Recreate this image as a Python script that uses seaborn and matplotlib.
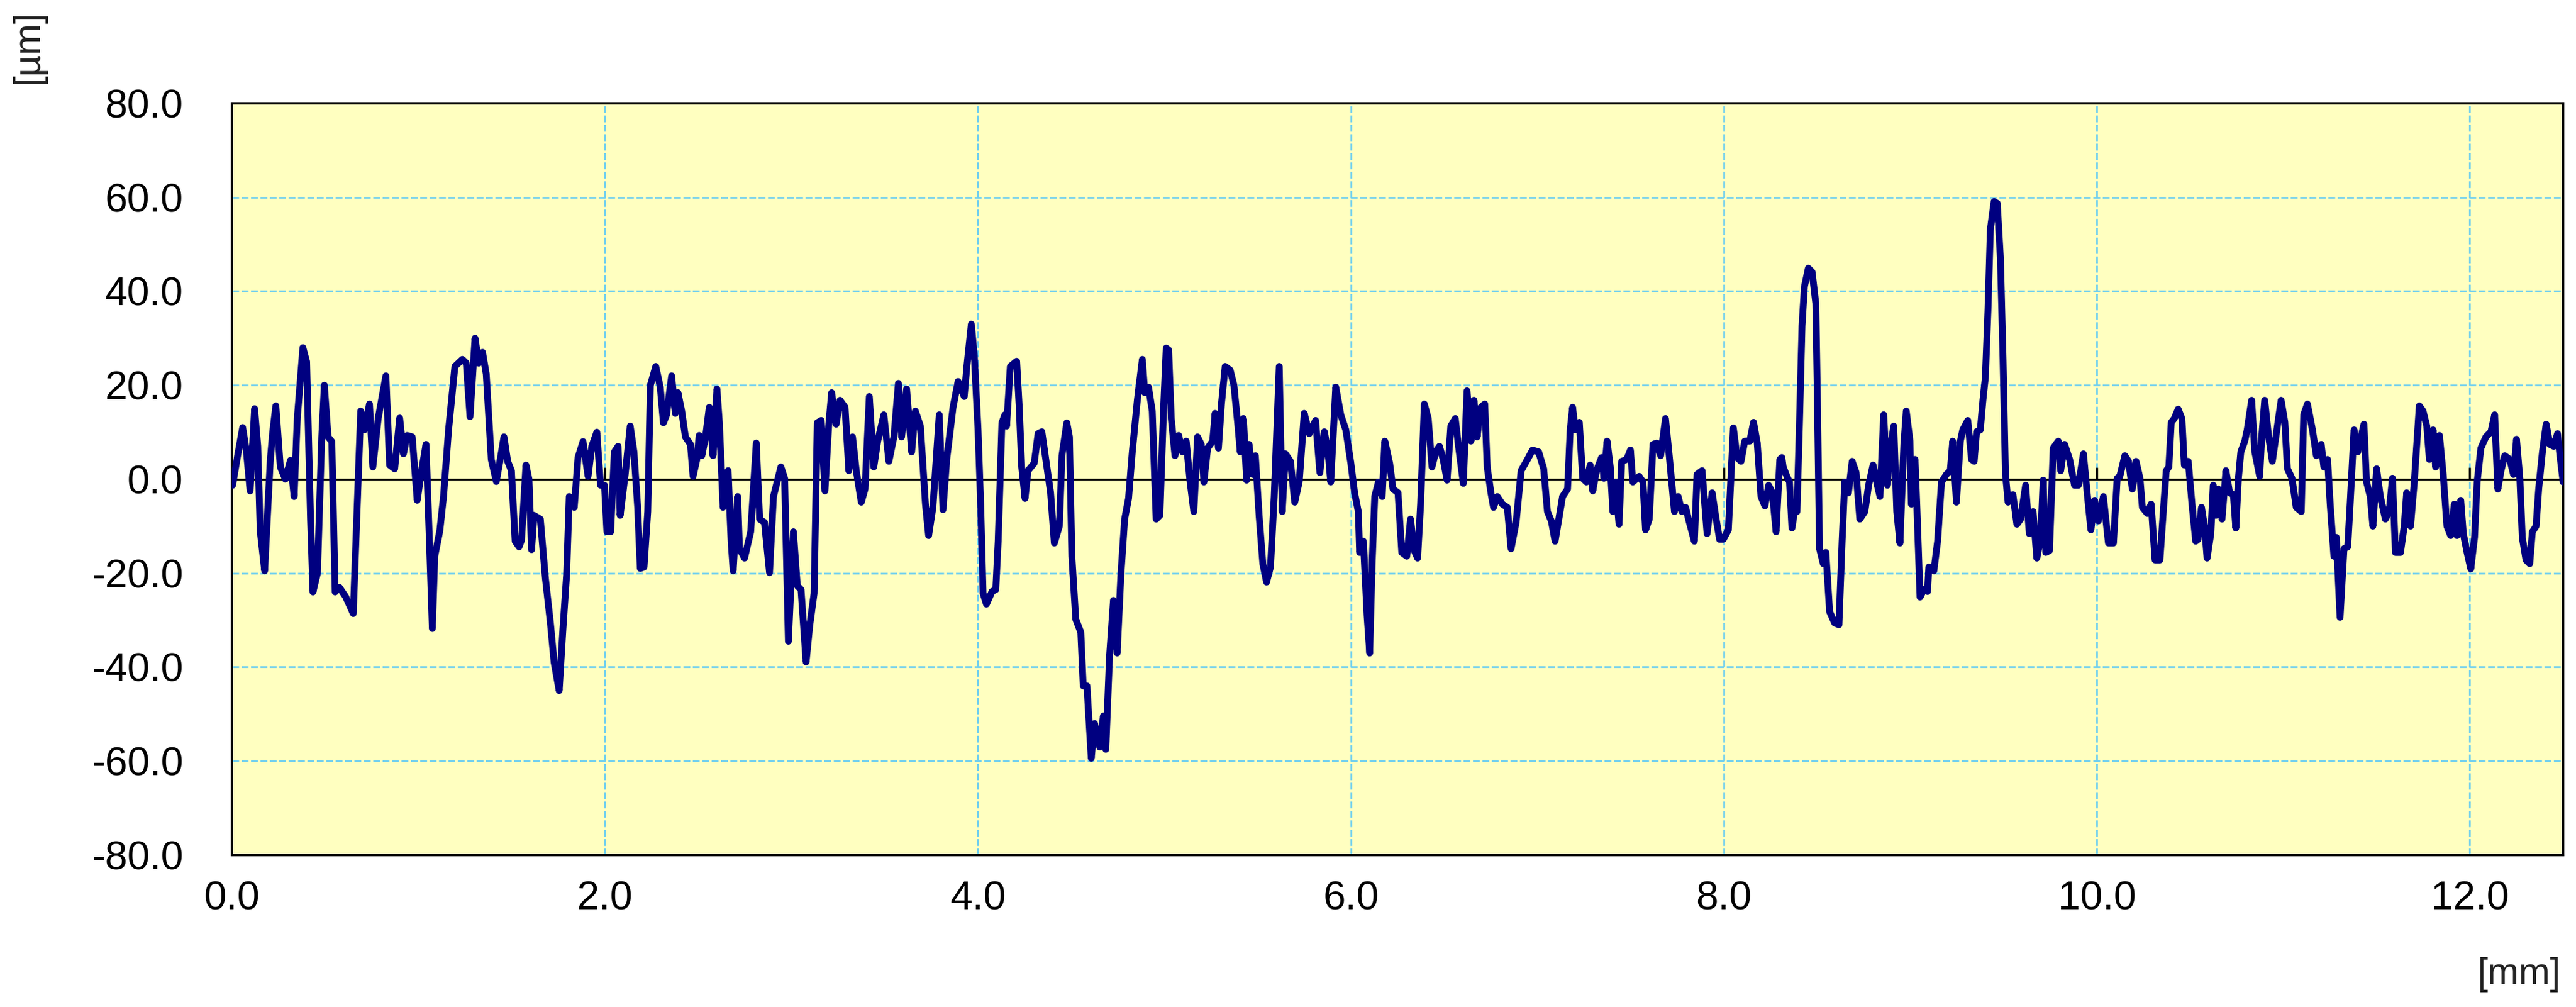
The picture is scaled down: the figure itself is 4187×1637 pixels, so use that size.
import numpy as np
import pandas as pd
import matplotlib
matplotlib.use('Agg')
import matplotlib.pyplot as plt
import seaborn as sns

# perfil de rugosidad: (distancia mm, altura um)
tramo_0_2 = [(0.000, -1), (0.004, -1.3), (0.031, 5), (0.058, 11), (0.078, 6), (0.098, -2.5),
             (0.122, 15), (0.139, 7), (0.152, -11), (0.176, -19.5), (0.190, -8.5), (0.206, 4),
             (0.219, 10), (0.236, 15.6), (0.260, 2.6), (0.287, 0), (0.314, 4), (0.334, -3.7),
             (0.351, 13), (0.381, 28), (0.401, 25), (0.422, -8.5), (0.435, -24), (0.459, -20),
             (0.482, 9), (0.496, 20), (0.516, 9), (0.536, 8), (0.554, -24), (0.576, -23),
             (0.610, -25), (0.651, -28.6), (0.671, -7), (0.691, 14.5), (0.711, 10.5), (0.738, 16),
             (0.756, 2.6), (0.785, 13), (0.826, 22), (0.846, 3), (0.873, 2.2), (0.900, 13),
             (0.920, 5.4), (0.940, 9.3), (0.967, 9), (0.994, -4.5), (1.014, 1), (1.041, 7.4),
             (1.061, -15), (1.075, -31.8), (1.088, -16.4), (1.115, -11), (1.135, -3.7), (1.162, 10.5),
             (1.196, 24), (1.236, 25.5), (1.257, 24.7), (1.277, 13.3), (1.304, 30), (1.324, 24.7),
             (1.344, 27), (1.364, 22.4), (1.391, 4.2), (1.418, -0.5), (1.439, 4.2), (1.459, 9),
             (1.479, 3.8), (1.499, 1.8), (1.519, -13.2), (1.540, -14.4), (1.553, -13), (1.577, 3),
             (1.593, 0), (1.607, -15), (1.620, -7.7), (1.654, -8.5), (1.681, -21), (1.708, -30.6),
             (1.728, -39), (1.755, -45), (1.775, -32), (1.795, -20.3), (1.809, -3.7), (1.836, -6),
             (1.856, 4.6), (1.883, 8), (1.910, 0.6), (1.930, 7), (1.957, 10), (1.977, -1.3),
             (1.998, -1.3), (2.011, -11.2), (2.031, -11.2), (2.051, 5.8), (2.071, 7)]

tramo_2_4 = [(2.082, -7.7), (2.109, 1), (2.136, 11.3), (2.156, 5.8), (2.176, -6), (2.190, -19),
             (2.210, -18.7), (2.230, -6.9), (2.244, 20), (2.273, 24), (2.297, 19.6), (2.314, 12),
             (2.331, 13.7), (2.358, 22), (2.378, 14), (2.392, 18.4), (2.412, 14.5), (2.432, 9),
             (2.459, 7.4), (2.473, 0.6), (2.493, 4.2), (2.506, 9.3), (2.520, 5), (2.540, 9),
             (2.560, 15.3), (2.580, 5), (2.601, 19.2), (2.614, 12), (2.634, -6), (2.661, 1.8),
             (2.677, -13.2), (2.688, -19.5), (2.712, -3.7), (2.722, -14.8), (2.749, -16.8), (2.782, -11.2),
             (2.812, 7.7), (2.830, -8.5), (2.856, -9.2), (2.883, -19.9), (2.904, -3.7), (2.944, 2.6),
             (2.964, 0.2), (2.984, -34.5), (3.011, -11.2), (3.032, -22.7), (3.052, -23.5), (3.079, -38.9),
             (3.099, -31), (3.122, -24.3), (3.139, 12), (3.160, 12.5), (3.180, -2.5), (3.200, 11.3),
             (3.216, 18.4), (3.240, 11.7), (3.261, 16.8), (3.288, 15.3), (3.308, 1.8), (3.328, 9),
             (3.348, 1.8), (3.375, -4.9), (3.395, -2.1), (3.418, 17.6), (3.442, 2.6), (3.463, 8.1),
             (3.496, 13.7), (3.523, 3.8), (3.550, 9), (3.574, 20.4), (3.591, 9), (3.618, 19.2),
             (3.645, 5.8), (3.665, 14.5), (3.692, 11.3), (3.719, -5.3), (3.736, -12), (3.759, -6),
             (3.793, 13.7), (3.813, -6.5), (3.833, 4.2), (3.867, 15.3), (3.894, 20.8), (3.927, 17.6),
             (3.941, 24), (3.965, 33), (3.981, 26.3), (4.001, 10.5), (4.015, -5.3), (4.028, -24.3),
             (4.046, -26.6), (4.076, -23.9), (4.096, -23.5), (4.109, -13.2), (4.129, 12), (4.145, 13.7)]

tramo_4_6 = [(4.154, 11.3), (4.174, 24), (4.208, 25.1), (4.222, 15.3), (4.235, 2.6), (4.253, -4.1),
             (4.269, 1.8), (4.302, 3.4), (4.323, 9.7), (4.343, 10.1), (4.370, 2.6), (4.390, -2.9),
             (4.410, -13.6), (4.437, -10), (4.451, 5), (4.477, 12), (4.491, 9), (4.504, -16.4),
             (4.525, -29.8), (4.552, -32.6), (4.565, -44), (4.585, -44), (4.608, -59.4), (4.626, -52),
             (4.653, -57), (4.673, -50.4), (4.686, -57.5), (4.706, -37.7), (4.727, -25.8), (4.747, -37),
             (4.767, -20.3), (4.787, -8.5), (4.808, -4.1), (4.828, 5.8), (4.855, 16.8), (4.882, 25.5),
             (4.895, 18.4), (4.915, 19.6), (4.935, 14.5), (4.956, -8.5), (4.976, -7.7), (4.996, 15.3),
             (5.010, 27.9), (5.023, 27.5), (5.037, 12.9), (5.057, 5), (5.077, 9.3), (5.097, 5.8),
             (5.117, 8.1), (5.138, -0.6), (5.158, -6.9), (5.178, 9), (5.198, 7.4), (5.212, -0.6),
             (5.232, 6.6), (5.259, 8.1), (5.272, 14), (5.290, 6.6), (5.306, 16), (5.326, 24),
             (5.353, 23.2), (5.373, 20), (5.393, 12), (5.407, 5.8), (5.424, 12.9), (5.441, -0.2),
             (5.454, 7.4), (5.474, 1), (5.488, 5), (5.508, -7.7), (5.528, -18), (5.548, -21.9),
             (5.569, -18.7), (5.589, -3.7), (5.616, 24), (5.632, -6.9), (5.649, 5.4), (5.676, 3.8),
             (5.699, -4.9), (5.723, -0.6), (5.750, 14), (5.777, 9.7), (5.811, 12.5), (5.834, 1.4),
             (5.858, 10.1), (5.878, 5.8), (5.892, -0.6), (5.919, 19.6), (5.946, 13.7), (5.973, 10.5),
             (6.000, 3.4), (6.020, -2.9), (6.040, -6.9), (6.047, -15.6), (6.067, -13.2), (6.087, -29),
             (6.101, -37), (6.114, -18), (6.128, -3.7), (6.148, -0.6), (6.168, -3.7), (6.182, 8.1),
             (6.208, 3.4)]

tramo_6_8 = [(6.226, -2.1), (6.253, -2.9), (6.273, -15.6), (6.300, -16.4), (6.320, -8.5), (6.340, -15.2),
             (6.358, -16.8), (6.374, -5.3), (6.394, 16), (6.415, 12.9), (6.435, 2.6), (6.455, 5.8),
             (6.475, 7), (6.495, 4.2), (6.516, -0.2), (6.536, 11.3), (6.560, 12.9), (6.576, 7.4),
             (6.603, -0.9), (6.623, 18.8), (6.644, 8.1), (6.660, 16.8), (6.677, 9), (6.697, 15.3),
             (6.718, 16), (6.731, 2.6), (6.751, -2.9), (6.765, -6), (6.785, -3.7), (6.812, -5.3),
             (6.839, -6), (6.859, -14.8), (6.886, -9.2), (6.913, 1.8), (6.947, 4.2), (6.974, 6.2),
             (7.007, 5.8), (7.034, 2.2), (7.054, -6.9), (7.075, -8.9), (7.095, -13.2), (7.115, -8.5),
             (7.135, -3.7), (7.162, -2.1), (7.176, 10.5), (7.189, 15.3), (7.203, 10.5), (7.225, 12.1),
             (7.243, 0.2), (7.263, -0.6), (7.283, 3), (7.297, -2.5), (7.317, 1.8), (7.344, 4.6),
             (7.357, 0.2), (7.374, 8.1), (7.391, 2.6), (7.405, -6.9), (7.418, -0.6), (7.438, -9.6),
             (7.452, 3.8), (7.479, 4.2), (7.499, 6.2), (7.512, -0.6), (7.546, 0.6), (7.566, -0.6),
             (7.580, -10.8), (7.600, -8.5), (7.620, 7.4), (7.640, 7.7), (7.661, 5), (7.687, 12.9),
             (7.708, 4.6), (7.735, -6.9), (7.755, -3.7), (7.775, -6.9), (7.795, -6), (7.815, -9.2),
             (7.842, -13.2), (7.856, 1), (7.883, 1.8), (7.910, -11.6), (7.937, -2.9), (7.957, -8.1),
             (7.977, -12.8), (7.997, -12.8), (8.024, -10.8), (8.051, 10.9), (8.071, 4.6), (8.092, 3.8),
             (8.112, 8.1), (8.139, 8.1), (8.159, 12.1), (8.179, 7.7), (8.199, -3.7), (8.220, -5.7),
             (8.240, -1.3), (8.260, -2.9), (8.280, -11.2), (8.300, 4.2)]

tramo_8_10 = [(8.311, 4.6), (8.318, 2.6), (8.338, 0.6), (8.352, -0.6), (8.365, -10.4), (8.379, -6.9),
              (8.392, -6.9), (8.405, 11.3), (8.419, 32.6), (8.432, 41), (8.453, 44.9), (8.473, 44.1),
              (8.493, 37.4), (8.500, 20.8), (8.513, -14.8), (8.533, -18), (8.547, -15.6), (8.567, -28.2),
              (8.594, -30.6), (8.617, -31), (8.634, -13.2), (8.648, -0.6), (8.668, -2.9), (8.688, 3.8),
              (8.709, 1.4), (8.729, -8.5), (8.756, -6.9), (8.776, -1.3), (8.800, 3), (8.823, -1.3),
              (8.837, -3.7), (8.857, 13.7), (8.877, -1.3), (8.890, 5.8), (8.911, 11.3), (8.927, -6.9),
              (8.944, -13.6), (8.965, 7.4), (8.978, 14.5), (8.998, 8.1), (9.005, -5.3), (9.025, 4.2),
              (9.035, -6), (9.052, -25.1), (9.072, -23.5), (9.092, -23.9), (9.099, -18.7), (9.126, -19.5),
              (9.146, -13.2), (9.167, -0.6), (9.193, 1), (9.214, 1.8), (9.227, 8.1), (9.247, -4.9),
              (9.268, 8.1), (9.281, 10.5), (9.308, 12.5), (9.328, 4.2), (9.342, 3.8), (9.355, 10.1),
              (9.375, 10.5), (9.389, 16.8), (9.402, 21.6), (9.416, 35.8), (9.429, 53.2), (9.449, 59.1),
              (9.466, 58.7), (9.483, 46.9), (9.497, 25.5), (9.510, 1), (9.524, -4.9), (9.550, -3.3),
              (9.571, -9.6), (9.591, -8.5), (9.618, -1.3), (9.638, -11.6), (9.658, -6.9), (9.678, -16.8),
              (9.699, -12.4), (9.712, -0.2), (9.726, -15.6), (9.746, -15.2), (9.766, 6.6), (9.793, 8.1),
              (9.806, 1.8), (9.827, 7.4), (9.854, 4.2), (9.880, -1.3), (9.901, -1.3), (9.928, 5.4),
              (9.948, -2.9), (9.968, -10.8), (9.988, -4.5), (10.008, -8.9), (10.035, -3.7), (10.062, -13.6),
              (10.089, -13.6), (10.109, 0.2), (10.123, 0.6), (10.150, 5), (10.170, 3.8), (10.190, -2.1),
              (10.210, 3.8), (10.231, 0.2), (10.244, -6), (10.271, -7.3), (10.291, -5.3), (10.312, -17.2),
              (10.338, -17.2), (10.359, -5.3), (10.372, 1.8), (10.386, 2.6), (10.399, 12.1)]

tramo_10_12 = [(10.415, 12.9), (10.436, 14.9), (10.456, 12.9), (10.469, 3), (10.490, 3.8), (10.510, -5.3),
               (10.530, -13.2), (10.543, -12.8), (10.561, -6), (10.577, -10), (10.591, -16.8), (10.611, -11.6),
               (10.624, -1.3), (10.638, -7.7), (10.651, -2.1), (10.671, -8.5), (10.692, 1.8), (10.712, -2.9),
               (10.732, -3.3), (10.745, -10.4), (10.759, 0.2), (10.772, 5.8), (10.793, 8.1), (10.806, 10.5),
               (10.830, 16.8), (10.847, 5.8), (10.873, 0.6), (10.884, 9), (10.900, 16.8), (10.921, 9),
               (10.941, 3.8), (10.968, 11.3), (10.988, 16.8), (11.008, 12.1), (11.022, 2.2), (11.046, 0.2),
               (11.069, -6), (11.096, -6.9), (11.109, 13.7), (11.129, 16), (11.156, 10.5), (11.177, 5),
               (11.203, 7.4), (11.217, 2.6), (11.237, 4.2), (11.251, -5.3), (11.271, -16.4), (11.284, -12.4),
               (11.304, -29.4), (11.325, -14.8), (11.345, -14.4), (11.358, -5.3), (11.379, 10.5), (11.399, 5.8),
               (11.432, 11.7), (11.446, -0.6), (11.466, -3.7), (11.480, -10), (11.500, 2.2), (11.520, -3.7),
               (11.547, -8.5), (11.567, -6.9), (11.585, 0.2), (11.601, -15.6), (11.628, -15.6), (11.648, -10),
               (11.661, -2.9), (11.682, -10), (11.702, -0.6), (11.729, 15.6), (11.749, 14.5), (11.769, 11.3),
               (11.783, 4.2), (11.803, 10.5), (11.816, 2.6), (11.837, 9.3), (11.857, 1), (11.877, -10),
               (11.897, -12), (11.917, -5.3), (11.931, -12), (11.951, -4.5), (11.965, -11.6), (11.985, -15.6),
               (12.005, -19.1), (12.025, -12.4), (12.039, -0.6), (12.059, 6.6), (12.086, 9), (12.113, 10.1),
               (12.133, 13.7), (12.150, -2.1), (12.167, 1.8), (12.187, 5), (12.214, 4.2), (12.234, 1),
               (12.250, 8.5), (12.268, 0.2), (12.281, -12.4), (12.301, -17.2), (12.321, -18), (12.335, -11.2),
               (12.355, -10), (12.369, -2.1), (12.389, 5.8), (12.409, 11.7), (12.429, 7.4), (12.449, 7),
               (12.470, 9.7), (12.483, 5), (12.500, -0.6)]

x_ticks = [0, 2, 4, 6, 8, 10, 12]
y_ticks = [-80, -60, -40, -20, 0, 20, 40, 60, 80]

tramos = tramo_0_2 + tramo_2_4 + tramo_4_6 + tramo_6_8 + tramo_8_10 + tramo_10_12
df = pd.DataFrame(tramos, columns=['mm', 'um'])

sns.set_style('white')
plt.rcParams['font.family'] = ['Liberation Sans', 'DejaVu Sans']
plt.rcParams['axes.unicode_minus'] = False

fig = plt.figure(figsize=(41.87, 16.37), dpi=100)
ax = fig.add_axes([0.0900, 0.1509, 0.9050, 0.7465])
ax.set_facecolor('#FFFFC0')

# rejilla azul claro punteada
for yv in [-60, -40, -20, 20, 40, 60]:
    ax.axhline(yv, color='#6FCFF0', lw=2, ls=(0, (4, 1.5)), zorder=1)
for xv in x_ticks[1:]:
    ax.axvline(xv, color='#6FCFF0', lw=2, ls=(0, (4, 1.5)), zorder=1)
ax.axhline(0, color='black', lw=2.2, zorder=2)

sns.lineplot(data=df, x='mm', y='um', ax=ax, color='#000080', lw=8,
             estimator=None, sort=False, zorder=3)

# marcas del eje x sobre la linea del cero
ax.plot(x_ticks, [0] * len(x_ticks), ls='none', marker=2, ms=14, mew=2.5,
        color='black', zorder=2)

ax.set_xlim(0, 12.5)
ax.set_ylim(-80, 80)
ax.set_xticks(x_ticks)
ax.set_yticks(y_ticks)
ax.set_xticklabels([f'{v:.1f}' for v in x_ticks])
ax.set_yticklabels([f'{v:.1f}' for v in y_ticks])
ax.tick_params(axis='y', direction='in', length=13, width=2.5, pad=57,
               labelsize=47, colors='black')
ax.tick_params(axis='x', length=0, pad=30, labelsize=47, colors='black')
ax.set_xlabel('')
ax.set_ylabel('')
for s in ax.spines.values():
    s.set_visible(True)
    s.set_color('black')
    s.set_linewidth(2.8)

fig.text(0.011, 0.9536, '[µm]', rotation=90, ha='center', va='center',
         fontsize=44, color='#222222')
fig.text(0.9940, 0.0318, '[mm]', ha='right', va='center',
         fontsize=44, color='#222222')

fig.savefig('out.png', dpi=100, facecolor='white')
